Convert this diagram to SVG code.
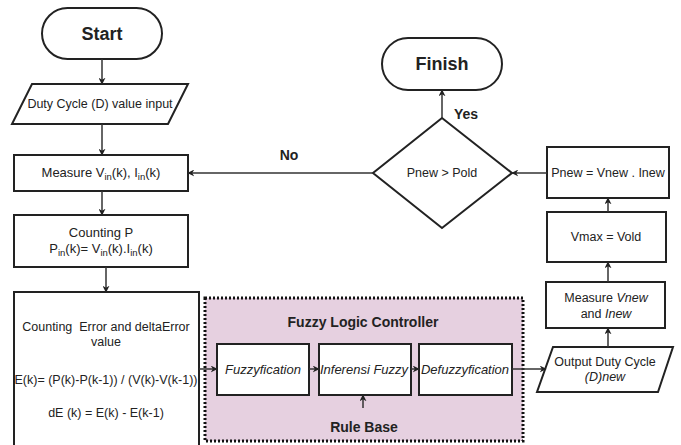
<svg xmlns="http://www.w3.org/2000/svg" width="681" height="445" viewBox="0 0 681 445">
<defs>
<marker id="ah" viewBox="0 0 10 10" refX="9" refY="5" markerWidth="7" markerHeight="7" orient="auto" markerUnits="userSpaceOnUse"><path d="M0,0 L10,5 L0,10 L3,5 z" fill="#222"/></marker>
<style>
.s{fill:#fff;stroke:#222;stroke-width:2}
.t{font-family:"Liberation Sans",Arial,sans-serif;font-size:12.5px;fill:#222;text-anchor:middle}
.b{font-weight:bold}
.i{font-style:italic}
.f{font-size:13px}
.big{font-size:18px}
.m{font-size:14px}
.sub{font-size:9.5px}
.c{fill:none;stroke:#333;stroke-width:1.5;marker-end:url(#ah)}
</style>
</defs>
<rect width="681" height="445" fill="#fff"/>
<g id="fuzzy-container">
<rect x="205" y="298" width="318" height="143" fill="#e6d0e0" stroke="#111" stroke-width="3" stroke-dasharray="2,2"/>
<text class="t b m" x="363" y="327">Fuzzy Logic Controller</text>
<text class="t b m" x="364" y="432">Rule Base</text>
</g>
<g id="start"><rect x="42" y="8" width="120" height="51" rx="25.5" class="s"/><text class="t b big" x="102" y="40">Start</text></g>
<g id="input"><polygon points="32,84 188,84 168,124 12,124" class="s"/><text class="t" x="100" y="108">Duty Cycle (D) value input</text></g>
<g id="measure"><rect x="14" y="155" width="174" height="36" class="s"/><text class="t f" x="101" y="177">Measure V<tspan class="sub" dy="3">in</tspan><tspan dy="-3">(k), I</tspan><tspan class="sub" dy="3">in</tspan><tspan dy="-3">(k)</tspan></text></g>
<g id="countp"><rect x="14" y="215" width="174" height="52" class="s"/><text class="t f" x="101" y="237">Counting P</text><text class="t f" x="101" y="253">P<tspan class="sub" dy="3">in</tspan><tspan dy="-3">(k)= V</tspan><tspan class="sub" dy="3">in</tspan><tspan dy="-3">(k).I</tspan><tspan class="sub" dy="3">in</tspan><tspan dy="-3">(k)</tspan></text></g>
<g id="error"><rect x="14" y="292" width="185" height="160" class="s"/><text class="t" x="106" y="331" xml:space="preserve">Counting  Error and deltaError</text><text class="t" x="106" y="346">value</text><text class="t" x="106" y="384">E(k)= (P(k)-P(k-1)) / (V(k)-V(k-1))</text><text class="t" x="106" y="417">dE (k) = E(k) - E(k-1)</text></g>
<g id="fuzzyfication"><rect x="217" y="344" width="92" height="51" class="s"/><text class="t i f" x="263" y="374">Fuzzyfication</text></g>
<g id="inferensi"><rect x="319" y="344" width="92" height="51" class="s"/><text class="t i f" x="364" y="374">Inferensi Fuzzy</text></g>
<g id="defuzzyfication"><rect x="419" y="344" width="93" height="51" class="s"/><text class="t i f" x="465" y="374">Defuzzyfication</text></g>
<g id="output"><polygon points="553,347 673,347 658,392 537,392" class="s"/><text class="t" x="605" y="366">Output Duty Cycle</text><text class="t i" x="605" y="381">(D)new</text></g>
<g id="measurenew"><rect x="546" y="282" width="119" height="46" class="s"/><text class="t" x="606" y="302">Measure <tspan class="i">Vnew</tspan></text><text class="t" x="606" y="318">and <tspan class="i">Inew</tspan></text></g>
<g id="vmax"><rect x="547" y="212" width="119" height="50" class="s"/><text class="t" x="606" y="241">Vmax = Vold</text></g>
<g id="pnew"><rect x="547" y="147" width="122" height="51" class="s"/><text class="t" x="608" y="177">Pnew = Vnew . Inew</text></g>
<g id="decision"><polygon points="442,118 512,173 442,228 373,173" class="s"/><text class="t" x="442" y="177">Pnew &gt; Pold</text></g>
<g id="finish"><rect x="382" y="38" width="120" height="52" rx="26" class="s"/><text class="t b big" x="442" y="70">Finish</text></g>
<g id="connectors">
<line class="c" x1="102" y1="59" x2="102" y2="84"/>
<line class="c" x1="102" y1="124" x2="102" y2="155"/>
<line class="c" x1="102" y1="191" x2="102" y2="215"/>
<line class="c" x1="106" y1="267" x2="106" y2="292"/>
<line class="c" x1="199" y1="369" x2="217" y2="369"/>
<line class="c" x1="309" y1="369" x2="319" y2="369"/>
<line class="c" x1="411" y1="369" x2="419" y2="369"/>
<line class="c" x1="363" y1="408" x2="363" y2="395"/>
<line class="c" x1="512" y1="369" x2="546" y2="369"/>
<line class="c" x1="608" y1="347" x2="608" y2="328"/>
<line class="c" x1="608" y1="282" x2="608" y2="262"/>
<line class="c" x1="608" y1="212" x2="608" y2="198"/>
<line class="c" x1="547" y1="173" x2="512" y2="173"/>
<line class="c" x1="442" y1="118" x2="442" y2="90"/>
<line class="c" x1="373" y1="173" x2="188" y2="173"/>
<text class="t b m" x="466" y="119">Yes</text>
<text class="t b m" x="289" y="160">No</text>
</g>
</svg>
